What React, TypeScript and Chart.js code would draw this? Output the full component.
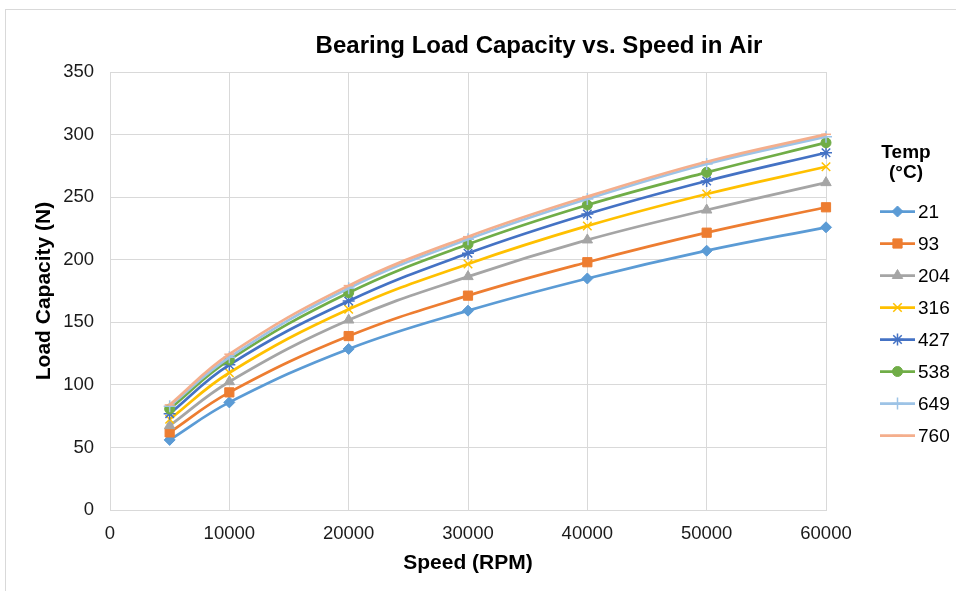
import React, { useEffect, useRef } from 'react';
import { Chart, registerables } from 'chart.js';
import { drawPoint } from 'chart.js/helpers';

Chart.register(...registerables);

const chartTitle = 'Bearing Load Capacity vs. Speed in Air';
const xAxisTitle = 'Speed (RPM)';
const yAxisTitle = 'Load Capacity (N)';
const legendTitle = ['Temp', '(°C)'];

const speeds = [5000, 10000, 20000, 30000, 40000, 50000, 60000];
const temps = ['21', '93', '204', '316', '427', '538', '649', '760'];

const load21 = [56.0, 86.0, 128.7, 159.3, 185.0, 207.2, 225.9];
const load93 = [62.0, 94.0, 139.0, 171.3, 198.0, 221.6, 241.9];
const load204 = [67.4, 102.5, 151.8, 186.5, 215.8, 239.7, 261.6];
const load316 = [72.5, 109.7, 160.4, 196.6, 227.0, 252.5, 274.3];
const load427 = [77.0, 116.0, 167.0, 205.1, 236.5, 262.9, 285.5];
const load538 = [80.7, 119.9, 173.6, 212.3, 243.7, 269.8, 293.5];
const load649 = [83.0, 122.0, 177.2, 216.3, 248.5, 276.5, 298.3];
const load760 = [84.0, 124.5, 179.3, 218.4, 250.4, 278.3, 300.2];

const seriesValues = [load21, load93, load204, load316, load427, load538, load649, load760];

const yTicksMin = 0;
const yTicksMax = 350;
const yTickStep = 50;
const xTicksMin = 0;
const xTicksMax = 60000;
const xTickStep = 10000;

const seriesColors = ['#5B9BD5', '#ED7D31', '#A5A5A5', '#FFC000', '#4472C4', '#70AD47', '#9DC3E6', '#F4AE8C'];
const markerStyles = ['rectRot', 'rect', 'triangle', 'crossRot', 'star', 'circle', 'cross', 'line'];
const markerRadius = [5.5, 6.5, 6, 6, 6, 5, 6, 5];
const markerBorder = [1, 1, 1, 1.5, 1.5, 1, 1.5, 1.5];

const FONT = '"Liberation Sans", Arial, Helvetica, sans-serif';
// The original chart is wider than the visible crop; the title is centred on the full chart.
const CANVAS_W = 1078;
const CANVAS_H = 591;
const PLOT_RIGHT = 826;

const backgroundPlugin = {
  id: 'bgBorder',
  beforeDraw(chart: any) {
    const ctx = chart.ctx;
    ctx.save();
    ctx.fillStyle = '#ffffff';
    ctx.fillRect(0, 0, chart.width, chart.height);
    ctx.strokeStyle = '#d9d9d9';
    ctx.lineWidth = 1;
    ctx.strokeRect(5.5, 9.5, 3000, 3000);
    ctx.restore();
  },
};

const legendPlugin = {
  id: 'excelLegend',
  afterDraw(chart: any) {
    const ctx = chart.ctx;
    ctx.save();
    ctx.fillStyle = '#000';
    ctx.font = `bold 19px ${FONT}`;
    ctx.textAlign = 'center';
    ctx.textBaseline = 'middle';
    ctx.fillText(legendTitle[0], 906, 153);
    ctx.fillText(legendTitle[1], 906, 173);
    ctx.font = `19px ${FONT}`;
    ctx.textAlign = 'left';
    chart.data.datasets.forEach((ds: any, i: number) => {
      const y = 211.5 + i * 32;
      ctx.strokeStyle = ds.borderColor;
      ctx.lineWidth = ds.borderWidth;
      ctx.beginPath();
      ctx.moveTo(880, y);
      ctx.lineTo(915, y);
      ctx.stroke();
      ctx.fillStyle = ds.pointBackgroundColor;
      ctx.strokeStyle = ds.pointBorderColor;
      ctx.lineWidth = ds.pointBorderWidth;
      drawPoint(ctx, {
        pointStyle: ds.pointStyle,
        radius: ds.pointRadius,
        rotation: 0,
        borderWidth: ds.pointBorderWidth,
      } as any, 897.5, y);
      ctx.fillStyle = '#000';
      ctx.fillText(ds.label, 918, y + 1);
    });
    ctx.restore();
  },
};

export default function App() {
  const canvasRef = useRef<HTMLCanvasElement | null>(null);

  useEffect(() => {
    if (!canvasRef.current) return;
    const datasets = temps.map((t, i) => ({
      label: t,
      data: speeds.map((s, j) => ({ x: s, y: seriesValues[i][j] })),
      borderColor: seriesColors[i],
      backgroundColor: seriesColors[i],
      borderWidth: 2.75,
      tension: 0.4,
      pointStyle: markerStyles[i],
      pointRadius: markerRadius[i],
      pointBackgroundColor: seriesColors[i],
      pointBorderColor: seriesColors[i],
      pointBorderWidth: markerBorder[i],
      order: temps.length - 1 - i,
      clip: false,
      fill: false,
      yAxisID: 'y',
    }));

    const chart = new Chart(canvasRef.current, {
      type: 'line',
      data: { datasets },
      plugins: [backgroundPlugin, legendPlugin],
      options: {
        animation: false,
        responsive: false,
        devicePixelRatio: 1,
        layout: { padding: 0 },
        font: { family: FONT },
        plugins: {
          legend: { display: false },
          tooltip: { enabled: false },
          title: {
            display: true,
            text: chartTitle,
            color: '#000',
            font: { family: FONT, size: 24, weight: 'bold' },
            padding: { top: 31.6, bottom: 11.6 },
          },
        },
        scales: {
          x: {
            type: 'linear',
            min: xTicksMin,
            max: xTicksMax,
            afterFit(scale: any) {
              scale.height = 81;
            },
            ticks: {
              stepSize: xTickStep,
              color: '#1a1a1a',
              font: { family: FONT, size: 18.5 },
              padding: 13,
              maxRotation: 0,
              callback: (v: any) => String(v),
            },
            grid: { color: '#d9d9d9', lineWidth: 1, drawTicks: false },
            border: { color: '#d9d9d9', width: 1 },
            title: {
              display: true,
              text: xAxisTitle,
              color: '#000',
              font: { family: FONT, size: 21, weight: 'bold' },
              padding: { top: 0, bottom: 15 },
            },
          },
          y: {
            type: 'linear',
            min: yTicksMin,
            max: yTicksMax,
            afterFit(scale: any) {
              scale.width = 110;
            },
            ticks: {
              stepSize: yTickStep,
              color: '#1a1a1a',
              font: { family: FONT, size: 18.5 },
              padding: 16,
            },
            grid: { color: '#d9d9d9', lineWidth: 1, drawTicks: false },
            border: { color: '#d9d9d9', width: 1 },
            title: {
              display: true,
              text: yAxisTitle,
              color: '#000',
              font: { family: FONT, size: 21, weight: 'bold' },
              padding: { top: 32, bottom: 0 },
            },
          },
          legendSpace: {
            type: 'linear',
            position: 'right',
            display: true,
            min: 0,
            max: 1,
            afterFit(scale: any) {
              scale.width = CANVAS_W - PLOT_RIGHT;
            },
            ticks: { display: false },
            grid: { display: false, drawTicks: false },
            border: { display: false },
            title: { display: false },
          },
        },
      } as any,
    });
    return () => chart.destroy();
  }, []);

  return (
    <div
      style={{
        position: 'fixed',
        left: 0,
        top: 0,
        width: 956,
        height: 591,
        overflow: 'hidden',
        background: '#fff',
      }}
    >
      <canvas
        ref={canvasRef}
        width={CANVAS_W}
        height={CANVAS_H}
        style={{ display: 'block', width: CANVAS_W, height: CANVAS_H }}
      />
    </div>
  );
}
